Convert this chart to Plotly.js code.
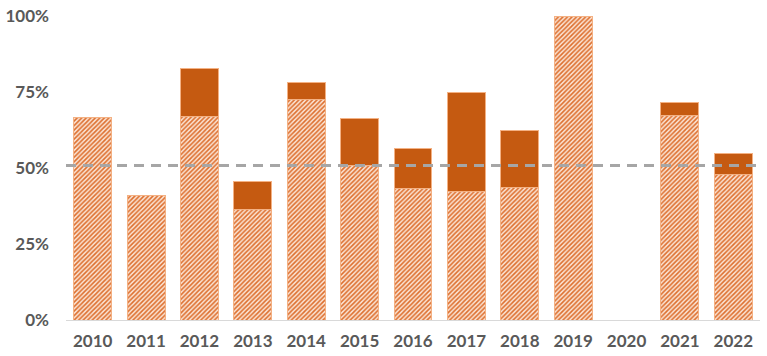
<!DOCTYPE html>
<html>
<head>
<meta charset="utf-8">
<script src="https://cdn.plot.ly/plotly-3.0.1.min.js"></script>
<style>html,body{margin:0;padding:0;background:#fff}#chart{width:767px;height:356px}</style>
</head>
<body>
<div id="chart"></div>
<script>
const years = ["2010","2011","2012","2013","2014","2015","2016","2017","2018","2019","2020","2021","2022"];
const baseShare = [0.665, 0.408, 0.67, 0.365, 0.724, 0.507, 0.432, 0.424, 0.436, 1.0, 0, 0.673, 0.478];
const topShare = [0.665, 0.408, 0.826, 0.454, 0.78, 0.664, 0.565, 0.749, 0.624, 1.0, 0, 0.715, 0.549];
const extraShare = topShare.map((t, i) => +(t - baseShare[i]).toFixed(3));
const threshold = [0.508];
const yTicks = [0, 0.25, 0.5, 0.75, 1];
const yTickLabels = ["0%", "25%", "50%", "75%", "100%"];

const traces = [
  {
    type: "bar", x: years, y: baseShare, hoverinfo: "skip",
    marker: {
      color: "#ffffff",
      pattern: {shape: "/", fgcolor: "#DD6F2E", bgcolor: "#FBE5D6", size: 3.2, solidity: 0.5},
      line: {color: "#F4B183", width: 1}
    }
  },
  {
    type: "bar", x: years, y: extraShare, hoverinfo: "skip",
    marker: {color: "#C55A11", line: {color: "#F4B183", width: 1}}
  }
];

const layout = {
  width: 767, height: 356,
  margin: {l: 66, r: 7, t: 16, b: 36},
  barmode: "stack", bargap: 0.29, showlegend: false,
  paper_bgcolor: "#fff", plot_bgcolor: "#fff",
  font: {family: "Lato, 'Open Sans', sans-serif", color: "#595959"},
  xaxis: {
    type: "category", showgrid: false, zeroline: false,
    showline: true, linecolor: "#D9D9D9", linewidth: 1,
    ticks: "", tickfont: {size: 17, weight: "bold", color: "#595959"},
    ticklabelstandoff: 6, fixedrange: true
  },
  yaxis: {
    range: [0, 1], tickvals: yTicks, ticktext: yTickLabels,
    showgrid: false, zeroline: false, showline: false, ticks: "",
    tickfont: {size: 17, weight: "bold", color: "#595959"},
    ticklabelstandoff: 16, fixedrange: true
  },
  shapes: [{
    type: "line", xref: "paper", x0: 0, x1: 1, yref: "y", y0: threshold[0], y1: threshold[0],
    line: {color: "#A6A6A6", width: 3, dash: "10px,7px"}, layer: "above"
  }]
};

Plotly.newPlot("chart", traces, layout, {displayModeBar: false, staticPlot: true});
</script>
</body>
</html>
